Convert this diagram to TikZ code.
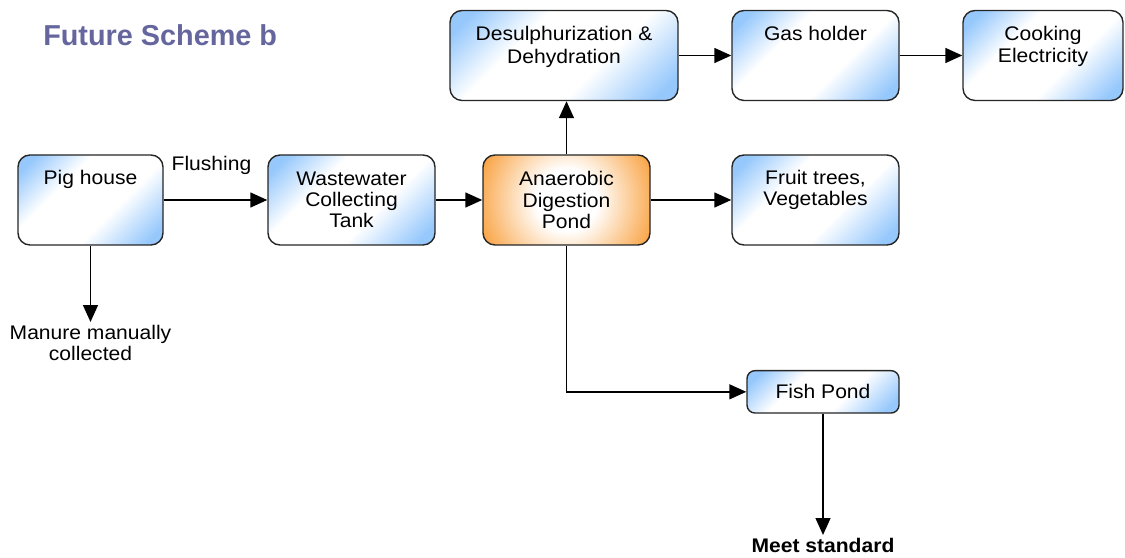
\documentclass[tikz,border=0pt]{standalone}
\usepackage{fontspec}
\setmainfont{Liberation Sans}[FakeStretch=1.07]
\newfontfamily\titlefont{Liberation Sans}
\usepackage{tikz}
\usetikzlibrary{shapes, arrows.meta, positioning, calc}

\definecolor{boxblue}{RGB}{150,200,252}
\definecolor{boxorange}{RGB}{248,148,36}
\definecolor{titleblue}{RGB}{102,102,158}

\pgfdeclarehorizontalshading{bluefade}{100bp}{color(0bp)=(boxblue); color(20bp)=(boxblue); color(37bp)=(white); color(60bp)=(white); color(80bp)=(boxblue); color(100bp)=(boxblue)}
\pgfdeclareradialshading{orangeglow}{\pgfpoint{0bp}{0bp}}{color(0bp)=(white); color(12bp)=(white); color(40bp)=(boxorange); color(50bp)=(boxorange)}

\begin{document}
\begin{tikzpicture}[
        box/.style={draw=black!85, line width=1pt, rounded corners=0.3cm, minimum height=2.25cm, align=center, shading=bluefade, shading angle=-45},
        digestbox/.style={box, shading=orangeglow},
        smallbox/.style={box, rounded corners=0.2cm, minimum height=1.06cm},
        txt/.style={inner sep=0pt, align=center},
        endtxt/.style={inner sep=2pt, align=center},
        arrow/.style={-{Triangle[length=12pt, width=10.5pt]}, line width=1.3pt},
        every node/.style={font=\fontsize{14}{15}\selectfont}
    ]
    \useasboundingbox (0,0) rectangle (28.125,13.95);

    % Title
    \node[txt, anchor=base west, text=titleblue, font=\titlefont\bfseries\fontsize{20.5}{24}\selectfont] (title) at (1.075, 12.81) {Future Scheme b};

    % Main line
    \node[box, minimum width=3.625cm] (pig) at (2.2625, 8.95) {};
    \node[txt, below=0.4cm of pig.north] (pig_txt) {Pig house};
    \node[box, minimum width=4.175cm] (tank) at (8.7875, 8.95) {Wastewater\\Collecting\\Tank};
    \node[digestbox, minimum width=4.175cm] (digest) at (14.1625, 8.95) {Anaerobic\\Digestion\\Pond};
    \node[box, minimum width=4.175cm] (fruit) at (20.3875, 8.95) {};
    \node[txt, below=0.4cm of fruit.north] (fruit_txt) {Fruit trees,\\Vegetables};

    % Biogas line
    \node[box, minimum width=5.7cm] (desulph) at (14.1, 12.5625) {};
    \node[txt, below=0.4cm of desulph.north] (desulph_txt) {Desulphurization \&\\[1.5pt]Dehydration};
    \node[box, minimum width=4.175cm] (gas) at (20.3875, 12.5625) {};
    \node[txt, below=0.4cm of gas.north] (gas_txt) {Gas holder};
    \node[box, minimum width=4.0cm] (cook) at (26.075, 12.5625) {};
    \node[txt, below=0.4cm of cook.north] (cook_txt) {Cooking\\[1pt]Electricity};

    % Effluent line
    \node[smallbox, minimum width=3.8cm] (fish) at (20.575, 4.154) {Fish Pond};

    % End texts
    \node[endtxt, anchor=north] (manure) at (2.2625, 5.9) {Manure manually\\collected};
    \node[endtxt, anchor=north, font=\fontsize{14}{15}\selectfont\bfseries] (meet) at (20.575, 0.575) {Meet standard};

    % Arrows
    \draw[arrow] (pig) -- (tank) node[midway, txt, above=0.6cm, xshift=-0.1cm] (flush) {Flushing};
    \draw[arrow] (tank) -- (digest);
    \draw[arrow] (digest) -- (fruit);
    \draw[arrow] (digest.north) -- (digest.north |- desulph.south);
    \draw[arrow] (desulph) -- (gas);
    \draw[arrow] (gas) -- (cook);
    \draw[arrow] (digest.south) |- (fish.west);
    \draw[arrow] (pig.south) -- (manure.north);
    \draw[arrow] (fish.south) -- (meet.north);

\end{tikzpicture}
\end{document}
